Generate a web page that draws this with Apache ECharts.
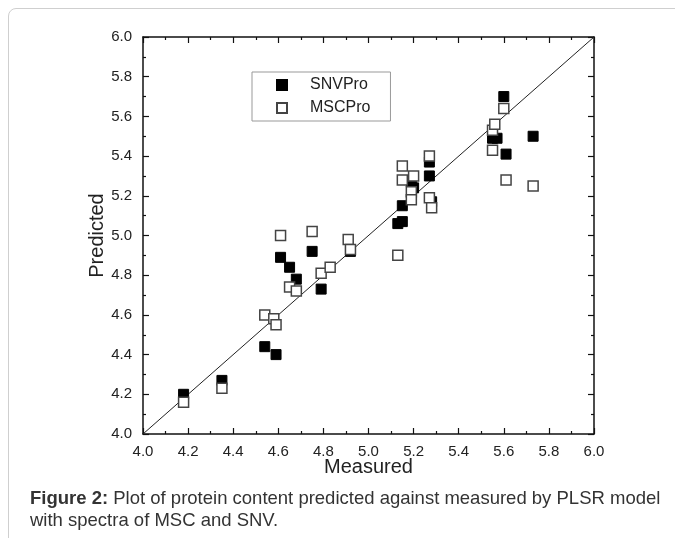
<!DOCTYPE html>
<html>
<head>
<meta charset="utf-8">
<script src="https://cdn.jsdelivr.net/npm/echarts@6/dist/echarts.min.js"></script>
<style>
  html, body { margin: 0; padding: 0; background: #fff; }
  #wrap { position: relative; width: 675px; height: 538px; overflow: hidden; }
  #frame { position: absolute; left: 8px; top: 8px; width: 700px; height: 560px;
           border: 1.5px solid #cfcfcf; border-radius: 8px; box-sizing: border-box; }
  #chart { position: absolute; left: 0; top: 0; width: 675px; height: 538px; }
  #caption { position: absolute; left: 30px; top: 487px; width: 645px; white-space: nowrap;
             font-family: "Liberation Sans", Arial, sans-serif; font-size: 18.5px;
             line-height: 22px; color: #333; }
</style>
</head>
<body>
<div id="wrap">
  <div id="frame"></div>
  <div id="chart"></div>
  <div id="caption"><b>Figure 2:</b> Plot of protein content predicted against measured by PLSR model<br>with spectra of MSC and SNV.</div>
</div>
<script>
// Data
var snvMeasured  = [4.18, 4.35, 4.54, 4.59, 4.61, 4.65, 4.68, 4.75, 4.79, 4.92, 5.13, 5.15, 5.15, 5.19, 5.20, 5.27, 5.27, 5.28, 5.55, 5.57, 5.60, 5.61, 5.73];
var snvPredicted = [4.20, 4.27, 4.44, 4.40, 4.89, 4.84, 4.78, 4.92, 4.73, 4.92, 5.06, 5.07, 5.15, 5.27, 5.24, 5.37, 5.30, 5.17, 5.49, 5.49, 5.70, 5.41, 5.50];
var mscMeasured  = [4.18, 4.35, 4.54, 4.58, 4.59, 4.61, 4.65, 4.68, 4.75, 4.79, 4.83, 4.91, 4.92, 5.13, 5.15, 5.15, 5.20, 5.19, 5.19, 5.27, 5.27, 5.28, 5.55, 5.55, 5.56, 5.60, 5.61, 5.73];
var mscPredicted = [4.16, 4.23, 4.60, 4.58, 4.55, 5.00, 4.74, 4.72, 5.02, 4.81, 4.84, 4.98, 4.93, 4.90, 5.35, 5.28, 5.30, 5.22, 5.18, 5.40, 5.19, 5.14, 5.43, 5.53, 5.56, 5.64, 5.28, 5.25];
var lineX = [4.0, 6.0];
var lineY = [4.0, 6.0];
var seriesNames = ["SNVPro", "MSCPro"];
var axisNames = ["Measured", "Predicted"];

function pairs(xs, ys) { return xs.map(function (x, i) { return [x, ys[i]]; }); }

var chart = echarts.init(document.getElementById('chart'), null, { renderer: 'canvas' });
var font = '"Liberation Sans", Arial, sans-serif';
var labelStyle = { color: '#222', fontSize: 15, fontFamily: font, formatter: function (v) { return v.toFixed(1); } };
function ax(extra) {
  return Object.assign({
    type: 'value', min: 4.0, max: 6.0, interval: 0.2,
    axisLine: { show: true, lineStyle: { color: '#111', width: 1.5 } },
    axisTick: { show: true, inside: true, length: 6, lineStyle: { color: '#111', width: 1.2 } },
    minorTick: { show: true, splitNumber: 2, length: 3, lineStyle: { color: '#111', width: 1.2 } },
    splitLine: { show: false }
  }, extra);
}

chart.setOption({
  animation: false,
  backgroundColor: 'transparent',
  grid: { left: 143, right: 81, top: 37, bottom: 104 },
  legend: {
    orient: 'vertical', left: 252, top: 72,
    data: seriesNames,
    itemWidth: 10, itemHeight: 10, itemGap: 7,
    borderColor: '#999', borderWidth: 1, padding: [5, 20, 5, 24],
    textStyle: { fontSize: 16, fontFamily: font, color: '#222', padding: [0, 0, 0, 18] }
  },
  xAxis: [
    ax({ position: 'bottom', name: axisNames[0], nameLocation: 'middle', nameGap: 23, nameMoveOverlap: false,
         nameTextStyle: { fontSize: 20, fontFamily: font, color: '#222' },
         axisLabel: Object.assign({}, labelStyle, { margin: 10 }) }),
    ax({ position: 'top', axisLabel: { show: false } })
  ],
  yAxis: [
    ax({ position: 'left', name: axisNames[1], nameLocation: 'middle', nameGap: 36, nameMoveOverlap: false,
         nameTextStyle: { fontSize: 20, fontFamily: font, color: '#222' },
         axisLabel: Object.assign({}, labelStyle, { margin: 11 }) }),
    ax({ position: 'right', axisLabel: { show: false } })
  ],
  series: [
    {
      type: 'line', data: pairs(lineX, lineY), symbol: 'none', silent: true,
      lineStyle: { color: '#222', width: 1 }, z: 1
    },
    {
      name: seriesNames[0], type: 'scatter', symbol: 'rect', symbolSize: 10,
      data: pairs(snvMeasured, snvPredicted),
      itemStyle: { color: '#000', borderColor: '#000', borderWidth: 1, opacity: 1 }, z: 2
    },
    {
      name: seriesNames[1], type: 'scatter', symbol: 'rect', symbolSize: 10,
      data: pairs(mscMeasured, mscPredicted),
      itemStyle: { color: '#fff', borderColor: '#444', borderWidth: 1.5, opacity: 1 }, z: 3
    }
  ]
});
</script>
</body>
</html>
